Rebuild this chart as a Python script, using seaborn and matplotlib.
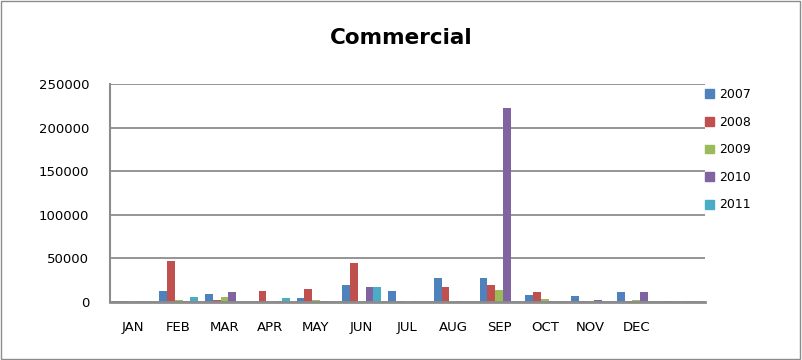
import matplotlib
matplotlib.use("Agg")
import matplotlib.pyplot as plt
import matplotlib.patches as mpatches
import seaborn as sns
import pandas as pd

months = ["JAN", "FEB", "MAR", "APR", "MAY", "JUN", "JUL", "AUG", "SEP", "OCT", "NOV", "DEC", ""]
years = ["2007", "2008", "2009", "2010", "2011"]
v2007 = [1500, 13000, 9000, 1000, 5000, 20000, 13000, 27000, 28000, 8000, 7000, 11000, 1000]
v2008 = [1500, 47000, 2000, 13000, 15000, 45000, 1000, 17000, 20000, 12000, 1000, 1000, 1000]
v2009 = [1500, 2000, 6000, 1000, 2000, 1000, 1000, 1000, 14000, 4000, 1000, 2000, 1000]
v2010 = [1500, 1500, 11000, 1000, 1000, 17000, 1000, 1000, 222000, 1000, 2000, 12000, 1500]
v2011 = [1500, 6000, 1000, 5000, 0, 17000, 0, 0, 0, 0, 0, 0, 0]
colors = ["#4F81BD", "#C0504D", "#9BBB59", "#8064A2", "#4BACC6"]

rows = []
for y, vals in zip(years, [v2007, v2008, v2009, v2010, v2011]):
    for m, v in zip(months, vals):
        rows.append({"month": m, "year": y, "value": v})
df = pd.DataFrame(rows)
df["month"] = pd.Categorical(df["month"], categories=months, ordered=True)

sns.set_theme(style="white")
plt.rcParams["font.family"] = ["DejaVu Sans"]
plt.rcParams["text.color"] = "black"

fig = plt.figure(figsize=(8.02, 3.6), dpi=100)
ax = fig.add_axes([110 / 802, 58 / 360, 595 / 802, 218 / 360])

sns.barplot(data=df, x="month", y="value", hue="year", order=months, hue_order=years,
            palette=colors, ax=ax, width=0.85, saturation=1, legend=False,
            edgecolor="none", linewidth=0)

ax.set_ylim(0, 250000)
ax.set_yticks([0, 50000, 100000, 150000, 200000, 250000])
ax.set_yticklabels(["0", "50000", "100000", "150000", "200000", "250000"])
ax.yaxis.grid(True, color="#8c8c8c", linewidth=1.3)
ax.set_axisbelow(True)
ax.set_xlabel("")
ax.set_ylabel("")
for s in ["top", "right"]:
    ax.spines[s].set_visible(False)
ax.spines["left"].set_color("#8c8c8c")
ax.spines["left"].set_linewidth(1.5)
ax.spines["bottom"].set_color("#8c8c8c")
ax.spines["bottom"].set_linewidth(2.0)
ax.tick_params(axis="both", length=0, labelsize=9.5, colors="black")
ax.tick_params(axis="y", pad=15)
ax.tick_params(axis="x", pad=14)
ax.set_xlim(-0.5, len(months) - 0.5)

fig.text(0.5, 0.894, "Commercial", ha="center", va="center", fontsize=15.5,
         fontweight="bold", color="black")

handles = [mpatches.Patch(color=c, label=y) for c, y in zip(colors, years)]
leg = fig.legend(handles=handles, loc="upper left", bbox_to_anchor=(700 / 802, 1 - 83 / 360),
                 frameon=False, fontsize=9, handlelength=0.7, handleheight=0.7,
                 handletextpad=0.4, labelspacing=1.17, borderaxespad=0)
for t in leg.get_texts():
    t.set_color("black")

fig.patches.append(mpatches.Rectangle((0.001, 0.004), 0.997, 0.993, transform=fig.transFigure,
                                      fill=False, edgecolor="#8c8c8c", linewidth=1))

fig.savefig("out.png", dpi=100)
